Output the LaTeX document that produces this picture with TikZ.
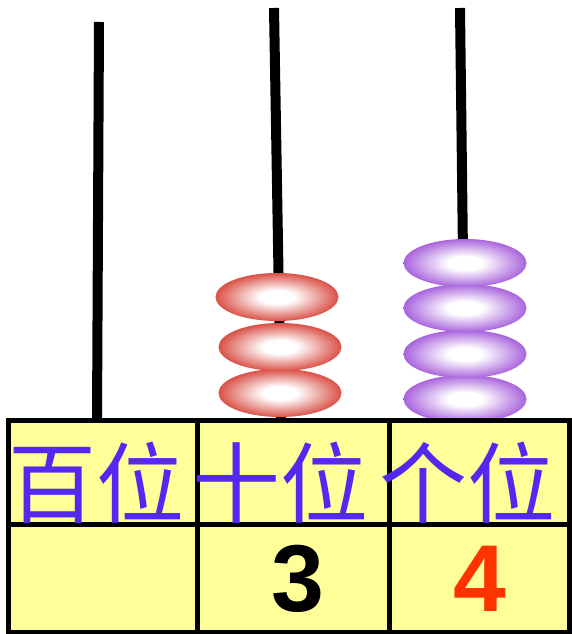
\documentclass[tikz,border=0pt]{standalone}
\usepackage{fontspec}
\setsansfont{Liberation Sans}
\newfontfamily\cjk{Noto Sans CJK SC}
\usetikzlibrary{shapes.geometric}
\definecolor{cellyellow}{RGB}{255,255,153}
\definecolor{labelblue}{RGB}{85,40,240}
\definecolor{beadred}{RGB}{212,52,40}
\definecolor{beadpurple}{RGB}{155,75,215}
\definecolor{digitred}{RGB}{255,51,0}
\pgfdeclareradialshading{redbead}{\pgfpoint{0bp}{0bp}}{color(0bp)=(white); color(7bp)=(white); color(28bp)=(beadred); color(50bp)=(beadred)}
\pgfdeclareradialshading{purplebead}{\pgfpoint{0bp}{0bp}}{color(0bp)=(white); color(7bp)=(white); color(28bp)=(beadpurple); color(50bp)=(beadpurple)}
\tikzset{
  rod/.style={line width=10pt},
  cell/.style={draw, line width=5pt, fill=cellyellow},
  bead/.style={ellipse, minimum width=123pt, minimum height=48pt, inner sep=0pt, shading=#1},
  place/.style={font=\cjk\fontsize{88}{88}\selectfont, text=labelblue, inner sep=0pt, anchor=base},
  digit/.style={font=\sffamily\bfseries\fontsize{95}{95}\selectfont, inner sep=0pt, anchor=base}
}
\begin{document}
\begin{tikzpicture}[x=1pt, y=-1pt]
  \useasboundingbox (0, 0) rectangle (572, 634);
  \coordinate (hundred top) at (99, 22);
  \coordinate (hundred foot) at (97, 420);
  \coordinate (ten top) at (274, 8);
  \coordinate (ten foot) at (281, 420);
  \coordinate (one top) at (460, 8);
  \coordinate (one foot) at (465, 420);
  \draw[rod] (hundred top) -- (hundred foot);
  \draw[rod] (ten top) -- (ten foot);
  \draw[rod] (one top) -- (one foot);
  \node[bead=redbead] (ten bead 3) at (280, 393) {};
  \node[bead=redbead] (ten bead 2) at (280, 347) {};
  \node[bead=redbead] (ten bead 1) at (277, 297) {};
  \node[bead=purplebead] (one bead 4) at (465, 399) {};
  \node[bead=purplebead] (one bead 3) at (465, 354) {};
  \node[bead=purplebead] (one bead 2) at (465, 308) {};
  \node[bead=purplebead] (one bead 1) at (465, 263) {};
  \draw[cell] (8, 420) rectangle (197, 524);
  \draw[cell] (197, 420) rectangle (389, 524);
  \draw[cell] (389, 420) rectangle (569, 524);
  \draw[cell] (8, 524) rectangle (197, 632);
  \draw[cell] (197, 524) rectangle (389, 632);
  \draw[cell] (389, 524) rectangle (569, 632);
  \node[place] (hundred name) at (97, 516) {百位};
  \node[place] (ten name) at (280, 516) {十位};
  \node[place] (one name) at (467, 516) {个位};
  \node[digit] (ten digit) at (298, 611) {3};
  \node[digit, text=digitred] (one digit) at (480, 611) {4};
\end{tikzpicture}
\end{document}
